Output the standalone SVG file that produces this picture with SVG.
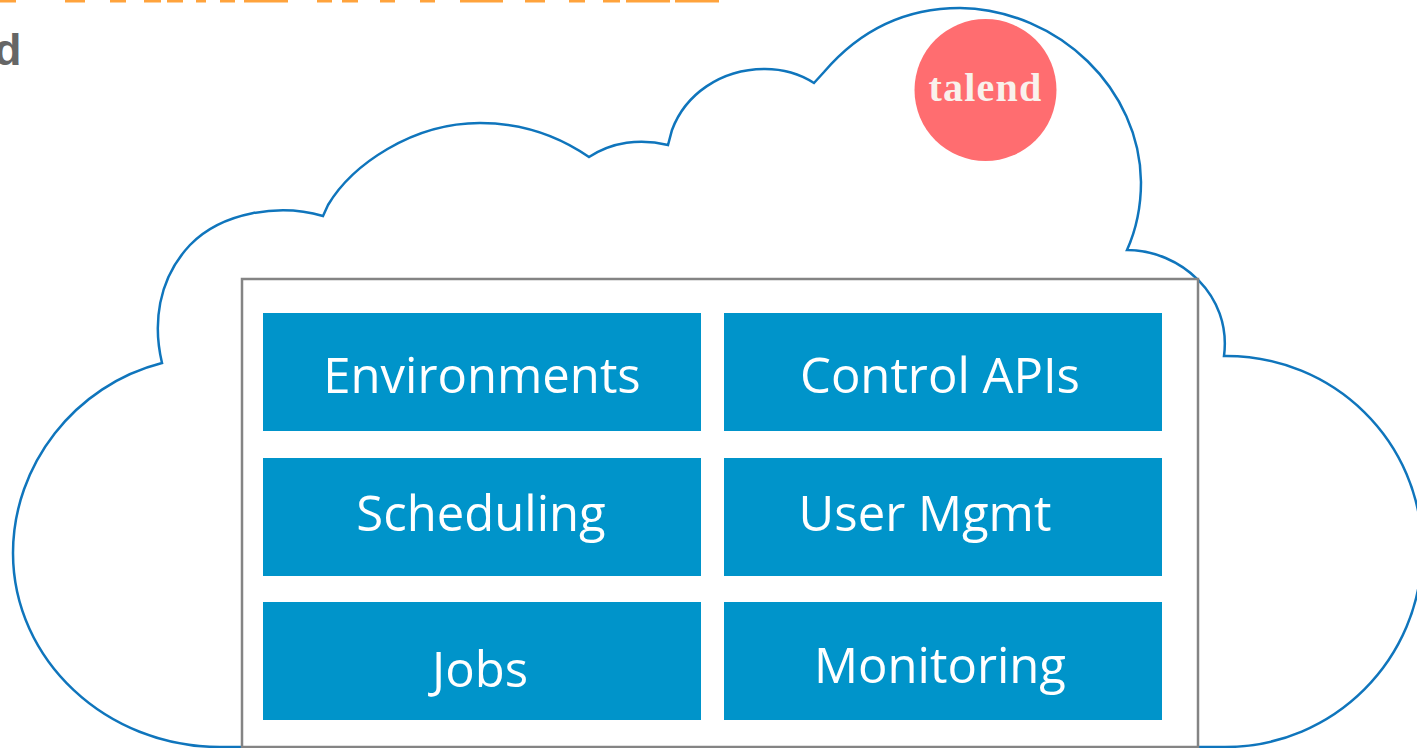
<svg xmlns="http://www.w3.org/2000/svg" width="1417" height="748" viewBox="0 0 1417 748">
<style>
.b{fill:#0094CA}
.t{font-family:"Open Sans","Noto Sans",sans-serif;font-size:49px;font-weight:400;fill:#fff;text-anchor:middle}
.o{fill:#FFA33C}
</style>
<rect width="1417" height="748" fill="#fff"/>
<g id="title-remnant"><rect class="o" x="0" y="0" width="16" height="2.500"/><rect class="o" x="65" y="0" width="20" height="2.500"/><rect class="o" x="110" y="0" width="16" height="2.500"/><rect class="o" x="144" y="0" width="17" height="2.500"/><rect class="o" x="167" y="0" width="16" height="2.500"/><rect class="o" x="196" y="0" width="10" height="2.500"/><rect class="o" x="220" y="0" width="15" height="2.500"/><rect class="o" x="244" y="0" width="44" height="2.500"/><rect class="o" x="317" y="0" width="15" height="2.500"/><rect class="o" x="342" y="0" width="16" height="2.500"/><rect class="o" x="380" y="0" width="15" height="2.500"/><rect class="o" x="420" y="0" width="15" height="2.500"/><rect class="o" x="460" y="0" width="43" height="2.500"/><rect class="o" x="525" y="0" width="20" height="2.500"/><rect class="o" x="569" y="0" width="16" height="2.500"/><rect class="o" x="603" y="0" width="17" height="2.500"/><rect class="o" x="626" y="0" width="44" height="2.500"/><rect class="o" x="675" y="0" width="44" height="2.500"/></g>
<text x="-6" y="65" font-family="'Liberation Sans',sans-serif" font-weight="700" font-size="45" fill="#666">d</text>
<g id="cloud"><path d="M162 363C153 325 157 280 190 245C222 212 280 203 323 216L328 205C352 165 412 123 480 123C525 123 560 137 589 157C612 142 640 138 668 145L672 130C685 95 720 69 765 69C785 69 800 74 814 83L824 72C860 30 905 8 960 8C1060 10 1140 90 1141 182C1141 210 1136 230 1127 250C1180 250 1232 295 1224 356C1334 355 1422 442 1422 550C1422 659 1334 747 1225 747L220 747C106 747 13 660 13 553C13 465 75 385 162 363Z" fill="#fff" stroke="#0F75BC" stroke-width="2.500"/></g>
<g id="talend"><circle cx="985.500" cy="90" r="71" fill="#FF6D70"/><text x="985.500" y="101" text-anchor="middle" font-family="'Liberation Serif',serif" font-weight="700" font-size="40" letter-spacing="1.200" fill="#F9F1EC">talend</text></g>
<g id="frame"><rect x="242" y="279" width="956" height="468" fill="#fff" stroke="#848484" stroke-width="2.500"/></g>
<g id="environments"><rect class="b" x="263" y="313" width="438" height="118"/><text class="t" x="482" y="393">Environments</text></g>
<g id="control-apis"><rect class="b" x="724" y="313" width="438" height="118"/><text class="t" x="940" y="393">Control APIs</text></g>
<g id="scheduling"><rect class="b" x="263" y="458" width="438" height="118"/><text class="t" x="481" y="531">Scheduling</text></g>
<g id="user-mgmt"><rect class="b" x="724" y="458" width="438" height="118"/><text class="t" x="925" y="531">User Mgmt</text></g>
<g id="jobs"><rect class="b" x="263" y="602" width="438" height="118"/><text class="t" x="480" y="687">Jobs</text></g>
<g id="monitoring"><rect class="b" x="724" y="602" width="438" height="118"/><text class="t" x="940" y="683">Monitoring</text></g>
</svg>
